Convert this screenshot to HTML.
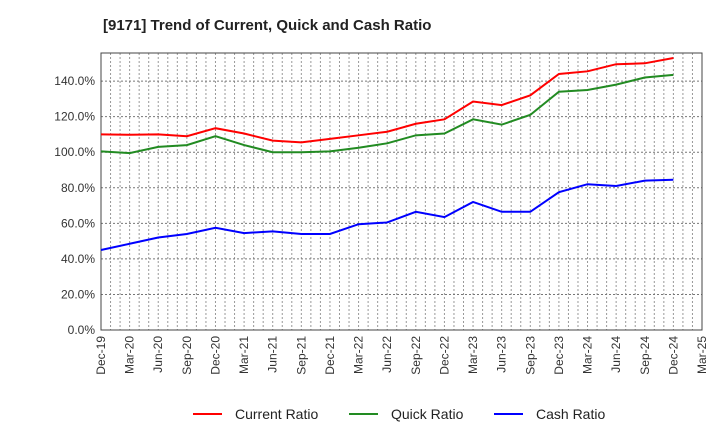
<!DOCTYPE html>
<html><head><meta charset="utf-8"><style>
body{margin:0;background:#fff;font-family:"Liberation Sans",sans-serif}
</style></head><body>
<svg width="720" height="440" viewBox="0 0 720 440" style="display:block">
<text x="103" y="30" font-size="15" font-weight="bold" fill="#222">[9171]  Trend of Current, Quick and Cash Ratio</text>
<g id="grid"></g>
<g id="axes"></g>
<g id="series"></g>
<g id="legend"></g>
</svg>
<script>
const categories=["Dec-19","Mar-20","Jun-20","Sep-20","Dec-20","Mar-21","Jun-21","Sep-21","Dec-21","Mar-22","Jun-22","Sep-22","Dec-22","Mar-23","Jun-23","Sep-23","Dec-23","Mar-24","Jun-24","Sep-24","Dec-24","Mar-25"];
const currentRatio=[110,109.8,110,109,113.5,110.5,106.5,105.5,107.5,109.5,111.5,116,118.5,128.5,126.5,132,144,145.5,149.5,150,153];
const quickRatio=[100.5,99.5,103,104,109,104,100,100,100.5,102.5,105,109.5,110.5,118.5,115.5,121,134,135,138,142,143.5];
const cashRatio=[45,48.5,52,54,57.5,54.5,55.5,54,54,59.5,60.5,66.5,63.5,72,66.5,66.5,77.5,82,81,84,84.5];
const yTicks=[0,20,40,60,80,100,120,140];
const seriesNames=["Current Ratio","Quick Ratio","Cash Ratio"];
const seriesColors=["#ff0000","#228b22","#0000ff"];

const L=101,R=702,T=53,B=330,YMAX=155.8;
const NS="http://www.w3.org/2000/svg";
const xs=i=>L+(R-L)*i/(categories.length-1);
const ys=v=>B-(B-T)*v/YMAX;
function mk(tag,attrs,parent){const e=document.createElementNS(NS,tag);for(const k in attrs)e.setAttribute(k,attrs[k]);parent.appendChild(e);return e;}
const grid=document.getElementById('grid'),axes=document.getElementById('axes'),ser=document.getElementById('series'),leg=document.getElementById('legend');
// vertical minor grid (monthly)
const nMonths=(categories.length-1)*3;
for(let m=1;m<nMonths;m++){const x=L+(R-L)*m/nMonths;
 const g=mk('line',{x1:x,x2:x,y1:T,y2:B,stroke:'#999','stroke-width':1,'stroke-dasharray':'2,2'},grid);
 
 }
yTicks.forEach(v=>{const y=ys(v);
 const g=mk('line',{x1:L,x2:R,y1:y,y2:y,stroke:'#777','stroke-width':1,'stroke-dasharray':'2,2'},grid);
 
 
 const t=mk('text',{x:L-6,y:y+4,'font-size':12,'text-anchor':'end',fill:'#333'},axes);
 t.textContent=v.toFixed(1)+'%';
 
 });
const frame=mk('rect',{x:L,y:T,width:R-L,height:B-T,fill:'none',stroke:'#444','stroke-width':1},axes);


categories.forEach((c,i)=>{const x=xs(i);
 const t=mk('text',{x:0,y:0,'font-size':12,'text-anchor':'end',fill:'#333',transform:`translate(${x+4},${B+6}) rotate(-90)`},axes);
 t.textContent=c;
 
 });
[currentRatio,quickRatio,cashRatio].forEach((d,s)=>{
 const p=mk('polyline',{points:d.map((v,i)=>xs(i)+','+ys(v)).join(' '),fill:'none',stroke:seriesColors[s],'stroke-width':2},ser);
 
 });
const lx=[193,349,494];
seriesNames.forEach((n,s)=>{
 const l=mk('line',{x1:lx[s],x2:lx[s]+29,y1:414,y2:414,stroke:seriesColors[s],'stroke-width':2},leg);
 
 
 const t=mk('text',{x:lx[s]+42,y:419,'font-size':14,fill:'#222'},leg);
 t.textContent=n;
 
 });
</script>
</body></html>
